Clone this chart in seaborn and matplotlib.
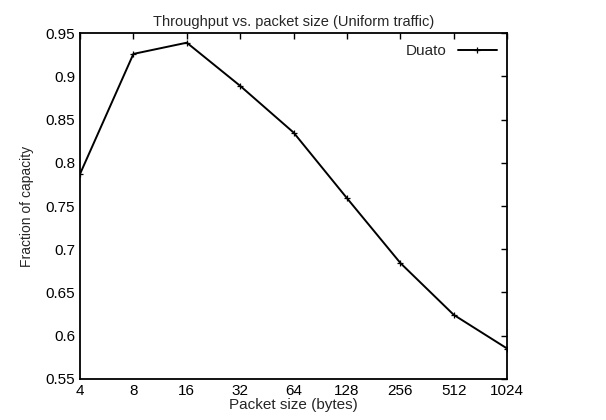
import matplotlib
matplotlib.use("Agg")
import matplotlib.pyplot as plt
import seaborn as sns
import pandas as pd

# packet sizes and measured throughput (fraction of capacity)
packet_sizes = [4, 8, 16, 32, 64, 128, 256, 512, 1024]
throughput = [0.787, 0.926, 0.939, 0.889, 0.835, 0.759, 0.684, 0.624, 0.585]
y_ticks = [0.55, 0.6, 0.65, 0.7, 0.75, 0.8, 0.85, 0.9, 0.95]
y_labels = ["0.55", "0.6", "0.65", "0.7", "0.75", "0.8", "0.85", "0.9", "0.95"]

df = pd.DataFrame({"size": packet_sizes, "frac": throughput})

sns.set_style("white")
plt.rcParams['font.family'] = ['Liberation Sans', 'DejaVu Sans']

fig, ax = plt.subplots(figsize=(6.06, 4.2), dpi=100)
sns.lineplot(data=df, x="size", y="frac", ax=ax, color="black", linewidth=1.4,
             marker="+", markersize=4, markeredgewidth=0.9,
             markeredgecolor="black", label="Duato")

ax.set_xscale("log", base=2)
ax.set_xlim(4, 1024)
ax.set_ylim(0.55, 0.95)
ax.set_xticks(packet_sizes)
ax.set_xticklabels([str(s) for s in packet_sizes])
ax.minorticks_off()
ax.set_yticks(y_ticks)
ax.set_yticklabels(y_labels)
ax.tick_params(direction="in", top=True, right=True, length=4, width=1,
               labelsize=11, colors="black")
for sp in ax.spines.values():
    sp.set_color("black")
    sp.set_linewidth(1.3)

ax.set_title("Throughput vs. packet size (Uniform traffic)", fontsize=10.5, pad=5)
ax.set_xlabel("Packet size (bytes)", fontsize=11, labelpad=0)
ax.set_ylabel("Fraction of capacity", fontsize=10, labelpad=8)

leg = ax.legend(loc="upper right", frameon=False, fontsize=11,
                markerfirst=False, handlelength=2.5, borderaxespad=0.3)

fig.subplots_adjust(left=0.132, right=0.837, top=0.921, bottom=0.098)
fig.savefig("out.png", dpi=100)
